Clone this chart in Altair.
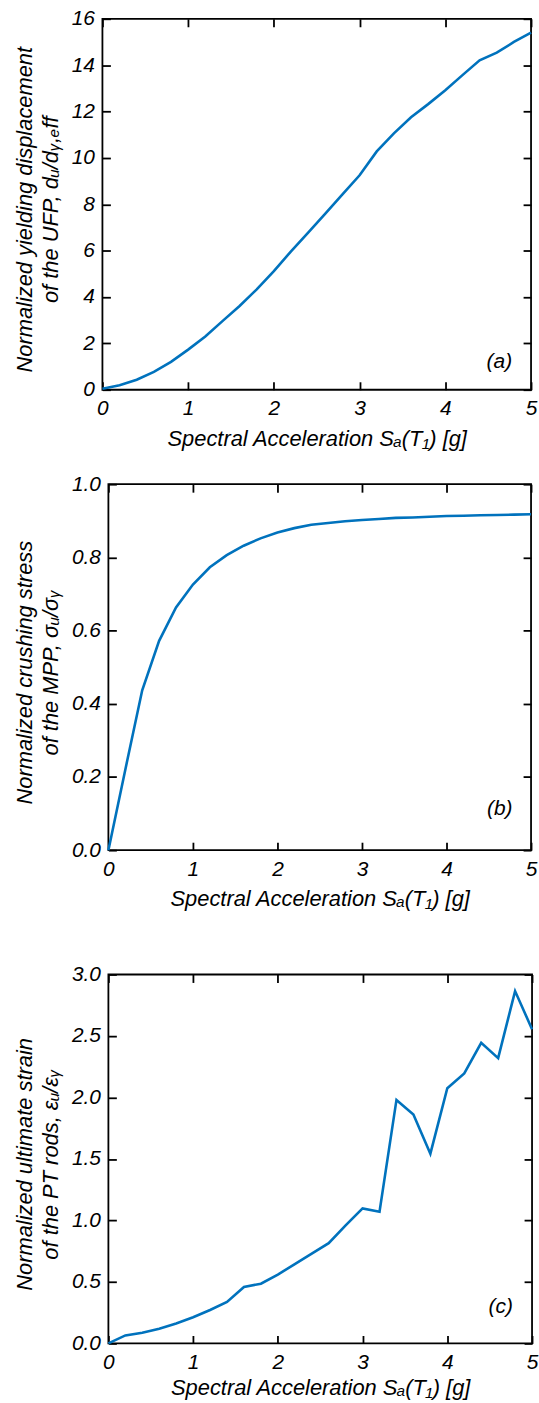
import altair as alt
import pandas as pd

# Spectral acceleration Sa(T1) [g]
sa = [0.0, 0.2, 0.4, 0.6, 0.8, 1.0, 1.2, 1.4, 1.6, 1.8, 2.0, 2.2, 2.4,
      2.6, 2.8, 3.0, 3.2, 3.4, 3.6, 3.8, 4.0, 4.2, 4.4, 4.6, 4.8, 5.0]

# (a) normalized yielding displacement of the UFP
ufp = [0.04, 0.19, 0.43, 0.77, 1.20, 1.73, 2.30, 2.96, 3.61, 4.33, 5.12, 5.97, 6.78,
       7.60, 8.43, 9.25, 10.28, 11.06, 11.75, 12.32, 12.92, 13.57, 14.21, 14.54, 15.00, 15.40]

# (b) normalized crushing stress of the MPP
mpp = [0.0, 0.22, 0.437, 0.572, 0.663, 0.726, 0.773, 0.806, 0.832, 0.852, 0.868, 0.880, 0.889,
       0.894, 0.899, 0.902, 0.905, 0.908, 0.909, 0.911, 0.913, 0.914, 0.915, 0.916, 0.917, 0.918]

# (c) normalized ultimate strain of the PT rods
pt = [0.0, 0.065, 0.086, 0.119, 0.162, 0.213, 0.272, 0.337, 0.459, 0.486, 0.56, 0.645, 0.73,
      0.815, 0.96, 1.098, 1.071, 1.98, 1.861, 1.543, 2.075, 2.196, 2.444, 2.32, 2.865, 2.555]

x_ticks = [0, 1, 2, 3, 4, 5]
ticks_a = [0, 2, 4, 6, 8, 10, 12, 14, 16]
ticks_b = [0.0, 0.2, 0.4, 0.6, 0.8, 1.0]
ticks_c = [0.0, 0.5, 1.0, 1.5, 2.0, 2.5, 3.0]

title_a = ["Normalized yielding displacement", "of the UFP, dᵤ/dᵧ,ₑff"]
title_b = ["Normalized crushing stress", "of the MPP, σᵤ/σᵧ"]
title_c = ["Normalized ultimate strain", "of the PT rods, εᵤ/εᵧ"]
x_title = "Spectral Acceleration Sₐ(T₁) [g]"

FONT = "Liberation Sans"
LINE_COLOR = "#0072BD"
TICK = 8


def panel(vals, ydom, yticks, yfmt, ytitle, w, h, tag, tag_x, tag_y, xtp):
    df = pd.DataFrame({"sa": sa, "v": vals})
    xs = alt.Scale(domain=[0, 5], nice=False, zero=False)
    ys = alt.Scale(domain=ydom, nice=False, zero=False)
    line = alt.Chart(df).mark_line(color=LINE_COLOR, strokeWidth=2.6).encode(
        x=alt.X("sa:Q", scale=xs, axis=alt.Axis(
            orient="bottom", values=x_ticks, format="d", title=x_title,
            offset=-TICK, tickSize=TICK, labelPadding=8, titlePadding=xtp)),
        y=alt.Y("v:Q", scale=ys, axis=alt.Axis(
            orient="left", values=yticks, format=yfmt, title=ytitle,
            offset=-TICK, tickSize=TICK, labelPadding=8, titlePadding=9,
            titleLineHeight=26, titleY=h / 2 + 5)),
    )
    mirror = alt.Chart(df).mark_line(opacity=0).encode(
        x=alt.X("sa:Q", scale=xs, title=None, axis=alt.Axis(
            orient="top", values=x_ticks, labels=False,
            offset=-TICK, tickSize=TICK)),
        y=alt.Y("v:Q", scale=ys, title=None, axis=alt.Axis(
            orient="right", values=yticks, labels=False,
            offset=-TICK, tickSize=TICK)),
    )
    tdf = pd.DataFrame({"sa": [tag_x], "v": [tag_y], "t": [tag]})
    txt = alt.Chart(tdf).mark_text(
        font=FONT, fontSize=21, fontStyle="italic", color="black"
    ).encode(
        x=alt.X("sa:Q", scale=xs, axis=None),
        y=alt.Y("v:Q", scale=ys, axis=None),
        text="t:N",
    )
    body = alt.layer(line, mirror, txt).resolve_axis(
        x="independent", y="independent"
    ).properties(width=w, height=h)
    # thin invisible spacer so that each panel's left edge follows its own axis width
    spacer = alt.Chart(pd.DataFrame({"v": [0]})).mark_point(opacity=0).encode(
        x=alt.X("v:Q", axis=None), y=alt.Y("v:Q", axis=None)
    ).properties(width=1, height=1, view=alt.ViewBackground(stroke="transparent"))
    return alt.hconcat(spacer, body, spacing=0)


pa = panel(ufp, [0, 16], ticks_a, "d", title_a, 431, 373, "(a)", 4.63, 1.2, 10)
pb = panel(mpp, [0, 1], ticks_b, ".1f", title_b, 425, 368, "(b)", 4.63, 0.113, 10)
pc = panel(pt, [0, 3], ticks_c, ".1f", title_c, 426, 371, "(c)", 4.63, 0.297, 5)

chart = alt.vconcat(
    alt.vconcat(pa, pb, spacing=22),
    pc,
    spacing=52,
).properties(
    padding={"top": 3, "left": 3, "right": 0, "bottom": 0}
).configure(
    background="white"
).configure_axis(
    labelFont=FONT, labelFontSize=21, labelFontStyle="italic", labelColor="black",
    titleFont=FONT, titleFontSize=22, titleFontStyle="italic", titleFontWeight="normal",
    titleColor="black", tickColor="black", tickWidth=1.8, domain=False, grid=False,
    labelFlush=False, labelOverlap=False,
).configure_view(
    stroke="black", strokeWidth=1.8
)

chart.save("out.html", embed_options={"renderer": "svg", "actions": False})
